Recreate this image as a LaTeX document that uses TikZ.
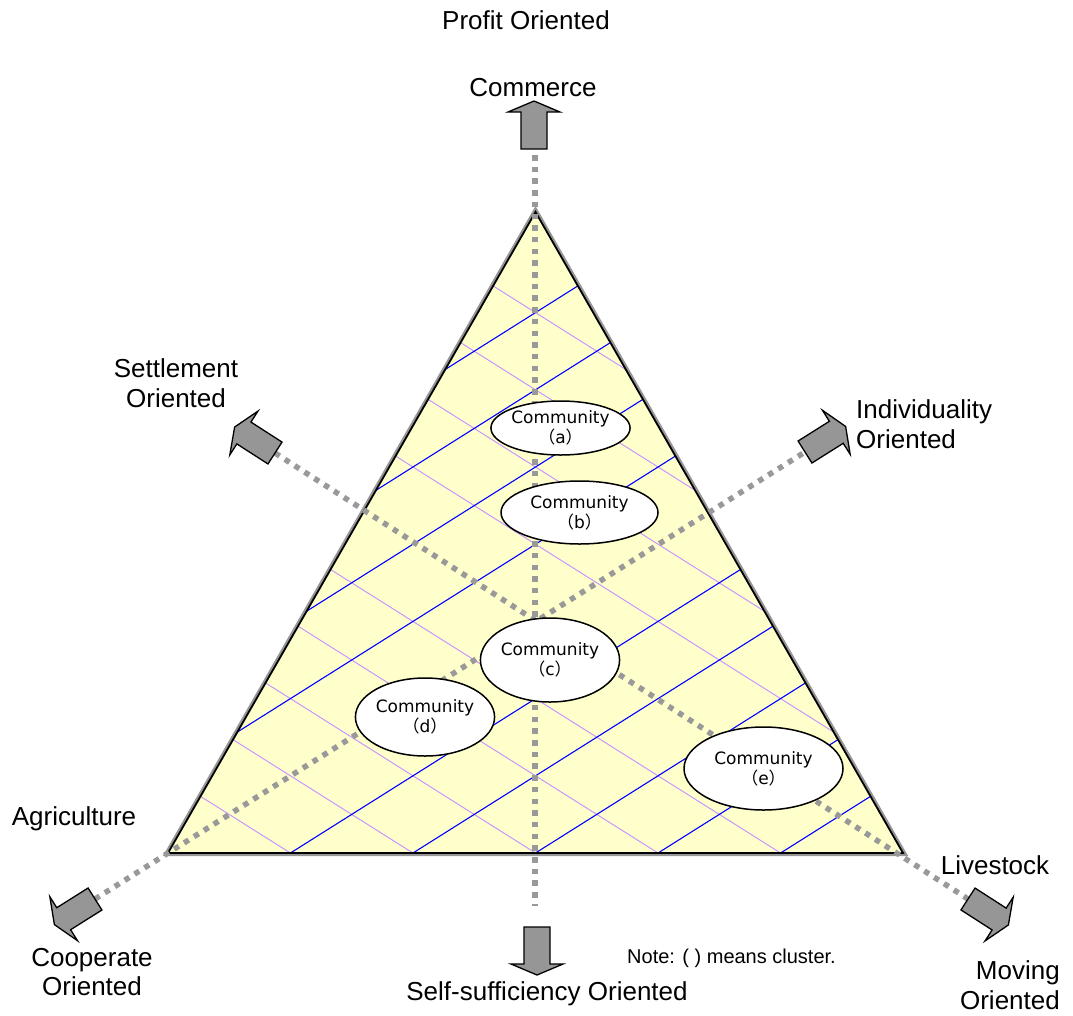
\documentclass[tikz,border=0pt]{standalone}
\usepackage{fontspec}
\setmainfont{Liberation Sans}
\newfontfamily\commfont{DejaVu Sans}
\newfontfamily\cjkfont{Noto Sans CJK JP}
\usetikzlibrary{shapes.geometric}
\definecolor{arrowgrey}{RGB}{150,150,150}
\definecolor{dotgrey}{RGB}{153,153,153}
\definecolor{rimgrey}{RGB}{150,150,150}
\definecolor{hatchblue}{RGB}{0,0,255}
\definecolor{hatchviolet}{RGB}{200,150,255}
\definecolor{paleyellow}{RGB}{255,255,204}
\newcommand{\fwp}[1]{{\cjkfont （}#1{\cjkfont ）}}
\begin{document}
\begin{tikzpicture}[x=1pt,y=-1pt,
  labeltext/.style={font=\fontsize{26}{29.5}\selectfont, inner sep=0pt, align=center},
  notetext/.style={font=\fontsize{20}{24}\selectfont, inner sep=0pt},
  arrowbody/.style={draw=black, line width=1.3pt, fill=arrowgrey, line join=miter},
  axisdots/.style={draw=dotgrey, line width=5.5pt, dash pattern=on 5.5pt off 6.2pt},
  bluehatch/.style={draw=hatchblue, line width=1.1pt},
  violethatch/.style={draw=hatchviolet, line width=1pt},
  community/.style={ellipse, draw, line width=1.5pt, fill=white, inner sep=0pt, align=center,
    font=\commfont\fontsize{17}{20}\selectfont},
  blockarrow/.pic={\path[arrowbody] (0,-13)--(37,-13)--(37,-26)--(48,0)--(37,26)--(37,13)--(0,13)--cycle;}
]
\useasboundingbox (0,0) rectangle (1073,1015);

% triangle corners
\coordinate (apex) at (535.5,212);
\coordinate (bl) at (168,853);
\coordinate (br) at (903,853);

% arrow tails (ends of the dotted axes)
\coordinate (topTail) at (534,149);
\coordinate (botTail) at (537,927);
\coordinate (botDots) at (535,906);
\coordinate (settleTail) at (275,453);
\coordinate (movingTail) at (968,899);
\coordinate (coopTail) at (95,899);
\coordinate (indivTail) at (805,452);

% triangle: grey rim, yellow body
\draw[line width=6pt, draw=rimgrey, line join=miter] (apex) -- (bl) -- (br) -- cycle;
\fill[paleyellow] (apex) -- (bl) -- (br) -- cycle;

% diamond hatching
\begin{scope}
  \clip (apex) -- (bl) -- (br) -- cycle;
  \foreach \k in {-2,-1,0,1,2,4,5,6,7} {
    \draw[violethatch] (100,{853-77.2*\k+0.63*(100-535.5)}) -- (1000,{853-77.2*\k+0.63*(1000-535.5)});
  }
  \foreach \k in {-2,-1,0,1,2,4,5,6,7} {
    \draw[bluehatch] (100,{853-77.2*\k-0.63*(100-535.5)}) -- (1000,{853-77.2*\k-0.63*(1000-535.5)});
  }
\end{scope}
\draw[line width=1.8pt, line join=miter] (apex) -- (bl) -- (br) -- cycle;

% dotted axes
\draw[axisdots] (535,155) -- (botDots);
\draw[axisdots] (coopTail) -- (indivTail);
\draw[axisdots] (settleTail) -- (movingTail);

% block arrows
\pic[rotate=90] at (topTail) {blockarrow};
\pic[rotate=-90] at (botTail) {blockarrow};
\pic[rotate=147.24] at (settleTail) {blockarrow};
\pic[rotate=32.2] at (indivTail) {blockarrow};
\pic[rotate=212.2] at (coopTail) {blockarrow};
\pic[rotate=-32.76] at (movingTail) {blockarrow};

% communities
\node[community, minimum width=137pt, minimum height=54pt] (ca) at (560.5,428) {Community\\\fwp{a}};
\node[community, minimum width=157pt, minimum height=63pt] (cb) at (579.5,512.5) {Community\\\fwp{b}};
\node[community, minimum width=135pt, minimum height=84pt] (cc) at (550,660) {Community\\\fwp{c}};
\node[community, minimum width=134pt, minimum height=78pt] (cd) at (425,717) {Community\\\fwp{d}};
\node[community, minimum width=159pt, minimum height=83pt] (ce) at (763.5,768.5) {Community\\\fwp{e}};

% labels
\node[labeltext] (profit) at (526,20) {Profit Oriented};
\node[labeltext] (commerce) at (533,88) {Commerce};
\node[labeltext] (settle) at (176,383) {Settlement\\Oriented};
\node[labeltext, align=left, anchor=west] (indiv) at (856,424) {Individuality\\Oriented};
\node[labeltext] (agri) at (74,819) {Agriculture};
\node[labeltext] (live) at (995,865) {Livestock};
\node[labeltext] (coop) at (92,972) {Cooperate\\Oriented};
\node[labeltext, align=right, anchor=east] (moving) at (1060,985) {Moving\\Oriented};
\node[labeltext] (selfsuf) at (547,994) {Self-sufficiency Oriented};
\node[notetext, anchor=west] (note) at (627,958) {Note: ( ) means cluster.};
\end{tikzpicture}
\end{document}
